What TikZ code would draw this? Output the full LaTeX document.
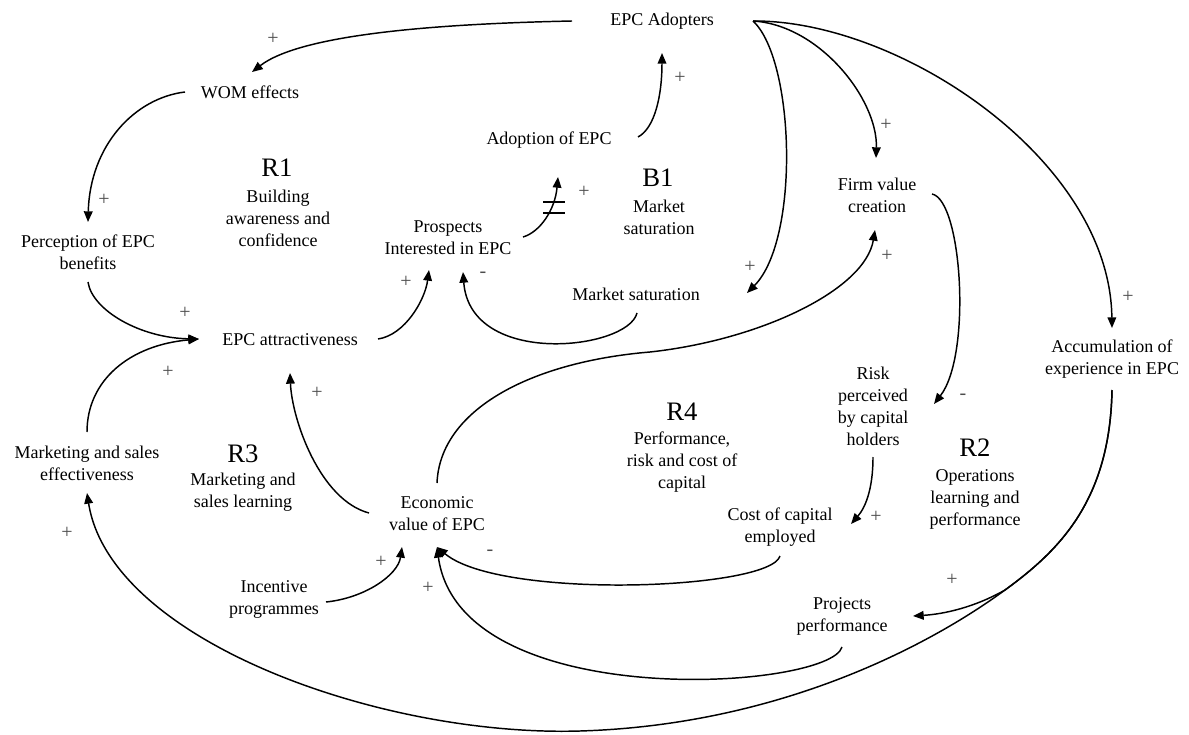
\documentclass[tikz,border=0pt]{standalone}
\usepackage{fontspec}
\setmainfont{Liberation Serif}
\usetikzlibrary{arrows.meta}
\begin{document}
\begin{tikzpicture}[x=0.75pt,y=-0.75pt,
  lbl/.style={inner sep=0pt, align=center, font=\fontsize{13.5}{16.5}\selectfont},
  ttl/.style={inner sep=0pt, font=\fontsize{20}{22}\selectfont},
  pol/.style={inner sep=0pt, font=\fontsize{15}{15}\selectfont, text=black!70},
  link/.style={line width=1.1pt, -{Triangle[length=8pt,width=6.5pt]}},
  delaymark/.style={line width=1pt},
]
\useasboundingbox (0,0) rectangle (1189,735);
% variables
\node[lbl] (adopters) at (662,21) {EPC Adopters};
\node[lbl] (wom) at (250,92) {WOM effects};
\node[lbl] (percep) at (88,252) {Perception of EPC\\benefits};
\node[lbl] (adoption) at (549,140) {Adoption of EPC};
\node[lbl] (prospects) at (448,238) {Prospects\\Interested in EPC};
\node[lbl] (firm) at (877,195) {Firm value\\creation};
\node[lbl] (msat) at (636,294) {Market saturation};
\node[lbl] (attract) at (290,340) {EPC attractiveness};
\node[lbl] (risk) at (873,406) {Risk\\perceived\\by capital\\holders};
\node[lbl] (accum) at (1112,359) {Accumulation of\\experience in EPC};
\node[lbl] (market) at (87,463) {Marketing and sales\\effectiveness};
\node[lbl] (econ) at (437,514) {Economic\\value of EPC};
\node[lbl] (cost) at (780,527) {Cost of capital\\employed};
\node[lbl] (incent) at (274,599) {Incentive\\programmes};
\node[lbl] (proj) at (842,616) {Projects\\performance};
% loop labels
\node[ttl] (r1) at (277,168) {R1};
\node[lbl] (r1d) at (278,218) {Building\\awareness and\\confidence};
\node[ttl] (b1) at (658,178) {B1};
\node[lbl] (b1d) at (659,217) {Market\\saturation};
\node[ttl] (r4) at (682,412) {R4};
\node[lbl] (r4d) at (682,462) {Performance,\\risk and cost of\\capital};
\node[ttl] (r2) at (975,448) {R2};
\node[lbl] (r2d) at (975,499) {Operations\\learning and\\performance};
\node[ttl] (r3) at (243,454) {R3};
\node[lbl] (r3d) at (243,492) {Marketing and\\sales learning};
% polarities
\node[pol] (p1) at (273,39) {+};
\node[pol] (p2) at (104,200) {+};
\node[pol] (p3) at (680,78) {+};
\node[pol] (p4) at (584,192) {+};
\node[pol] (p5) at (886,125) {+};
\node[pol] (p6) at (750,267) {+};
\node[pol] (p7) at (887,256) {+};
\node[pol] (p8) at (1128,297) {+};
\node[pol] (p9) at (185,313) {+};
\node[pol] (p10) at (168,372) {+};
\node[pol] (p11) at (317,393) {+};
\node[pol] (p12) at (406,282) {+};
\node[pol] (p13) at (483,275) {-};
\node[pol] (p14) at (963,397) {-};
\node[pol] (p15) at (876,517) {+};
\node[pol] (p16) at (381,562) {+};
\node[pol] (p17) at (490,553) {-};
\node[pol] (p18) at (428,588) {+};
\node[pol] (p19) at (952,580) {+};
\node[pol] (p20) at (67,533) {+};
% helper coordinates
\coordinate (mid) at (650,352);
\coordinate (split) at (1005,590);
\coordinate (low) at (580,731);
% links
\draw[link] ([shift={(-90,0)}]adopters.center) .. controls (430,24) and (300,35) .. ([shift={(2,-20)}]wom.center);
\draw[link] ([shift={(-65,0)}]wom.center) .. controls (135,98) and (90,145) .. ([shift={(0,-30)}]percep.center);
\draw[link] ([shift={(0,30)}]percep.center) .. controls (92,310) and (140,338) .. ([shift={(-91,-1)}]attract.center);
\draw[link] ([shift={(0,-31)}]market.center) .. controls (87,380) and (130,345) .. ([shift={(-91,-1)}]attract.center);
\draw[link] ([shift={(88,-1)}]attract.center) .. controls (405,335) and (425,300) .. ([shift={(-19,32)}]prospects.center);
\draw[link] ([shift={(75,-1)}]prospects.center) .. controls (540,232) and (555,210) .. ([shift={(9,37)}]adoption.center);
\draw[delaymark] (543,202) -- (565,202) (543,213) -- (565,213);
\draw[link] ([shift={(89,-3)}]adoption.center) .. controls (655,128) and (662,95) .. ([shift={(0,32)}]adopters.center);
\draw[link] ([shift={(1,19)}]msat.center) .. controls (628,350) and (470,368) .. ([shift={(15,34)}]prospects.center);
\draw[link] ([shift={(91,0)}]adopters.center) .. controls (795,60) and (800,240) .. ([shift={(111,-1)}]msat.center);
\draw[link] ([shift={(91,0)}]adopters.center) .. controls (820,25) and (878,100) .. ([shift={(-1,-37)}]firm.center);
\draw[link] ([shift={(91,0)}]adopters.center) .. controls (900,20) and (1110,160) .. ([shift={(0,-31)}]accum.center);
\draw[link] ([shift={(55,-1)}]firm.center) .. controls (962,200) and (972,355) .. ([shift={(61,-2)}]risk.center);
\draw[link] ([shift={(0,51)}]risk.center) .. controls (873,490) and (865,508) .. ([shift={(71,-3)}]cost.center);
\draw[link] ([shift={(0,-31)}]econ.center) .. controls (440,410) and (530,362) .. (mid) .. controls (760,340) and (865,290) .. ([shift={(-2,35)}]firm.center);
\draw[link] ([shift={(-68,-1)}]econ.center) .. controls (320,500) and (292,420) .. ([shift={(0,33)}]attract.center);
\draw[link] ([shift={(52,3)}]incent.center) .. controls (365,598) and (398,575) .. ([shift={(-35,33)}]econ.center);
\draw[link] ([shift={(0,29)}]cost.center) .. controls (770,590) and (500,600) .. ([shift={(0,33)}]econ.center);
\draw[link] ([shift={(0,31)}]proj.center) .. controls (830,690) and (460,715) .. ([shift={(0,33)}]econ.center);
\draw[link] ([shift={(0,31)}]accum.center) .. controls (1110,500) and (1060,550) .. (split) .. controls (975,607) and (945,614) .. ([shift={(71,0)}]proj.center);
\draw[link] ([shift={(0,31)}]accum.center) .. controls (1110,500) and (1060,550) .. (split) .. controls (930,645) and (780,725) .. (low) .. controls (380,737) and (110,640) .. ([shift={(0,30)}]market.center);
\end{tikzpicture}
\end{document}
